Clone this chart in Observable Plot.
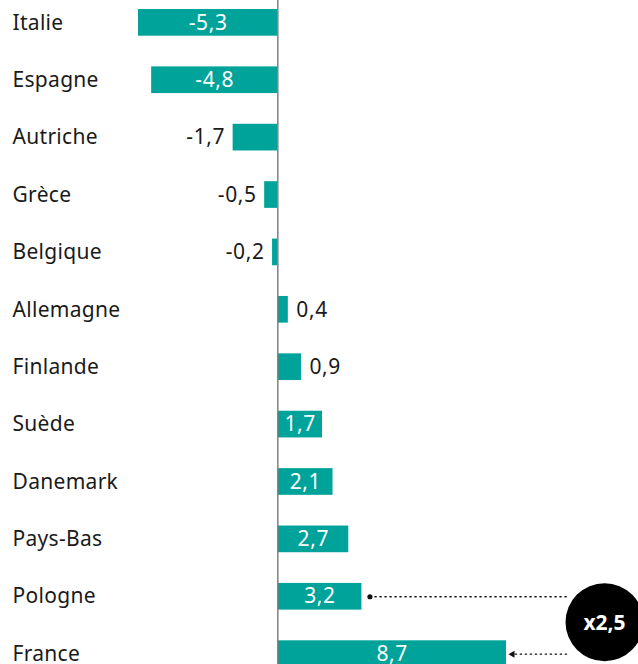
<!DOCTYPE html>
<html>
<head>
<meta charset="utf-8">
<script src="https://cdn.jsdelivr.net/npm/d3@7"></script>
<script src="https://cdn.jsdelivr.net/npm/@observablehq/plot@0.6"></script>
<style>
  html, body { margin: 0; padding: 0; overflow: hidden; background: #fff; }
  #chart { width: 638px; height: 664px; overflow: hidden; }
</style>
</head>
<body>
<div id="chart"></div>
<script>
const countries = ["Italie","Espagne","Autriche","Grèce","Belgique","Allemagne","Finlande","Suède","Danemark","Pays-Bas","Pologne","France"];
const values = [-5.3,-4.8,-1.7,-0.5,-0.2,0.4,0.9,1.7,2.1,2.7,3.2,8.7];
const ratioLabel = "x2,5";
const fromCountry = "Pologne";
const toCountry = "France";

const data = countries.map((c, i) => ({country: c, value: values[i]}));
const fmt = v => v.toFixed(1).replace(".", ",");
const inside = d => d.value >= 1.5 || d.value <= -2;
const teal = "#00a39a";
const font = "'Noto Sans', 'Open Sans', sans-serif";

const fromVal = values[countries.indexOf(fromCountry)];
const toVal = values[countries.indexOf(toCountry)];
const circleX = 12.43; // annotation bubble position, in value units

const chart = Plot.plot({
  width: 638,
  height: 667,
  marginLeft: 138,
  marginRight: 132,
  marginTop: 9,
  marginBottom: 0,
  style: {fontFamily: font, background: "#fff"},
  x: {domain: [-5.3, 8.7], axis: null},
  y: {domain: countries, axis: null, paddingInner: 0.535, paddingOuter: 0, round: false},
  marks: [
    Plot.barX(data, {x: "value", y: "country", fill: teal}),
    Plot.ruleX([0], {stroke: "#808080", strokeWidth: 1.5, insetTop: -9}),
    Plot.text(data, {y: "country", text: "country", frameAnchor: "left", dx: -126, textAnchor: "start", fill: "#1a1a1a", fontSize: 21, className: "lbl"}),
    Plot.text(data.filter(inside), {x: d => d.value / 2, y: "country", text: d => fmt(d.value), fill: "#fff", fontSize: 21, className: "val"}),
    Plot.text(data.filter(d => !inside(d) && d.value < 0), {x: "value", y: "country", text: d => fmt(d.value), fill: "#1a1a1a", fontSize: 21,
      textAnchor: "end", dx: -8, className: "val"}),
    Plot.text(data.filter(d => !inside(d) && d.value >= 0), {x: "value", y: "country", text: d => fmt(d.value), fill: "#1a1a1a", fontSize: 21,
      textAnchor: "start", dx: 8, className: "val"}),
    // annotation
    Plot.arrow([0], {x1: fromVal, x2: circleX, y1: () => fromCountry, y2: () => fromCountry, headLength: 0, insetStart: 8, insetEnd: 38,
      stroke: "#111", strokeWidth: 1.3, strokeDasharray: "1.3,3.7"}),
    Plot.dot([0], {x: fromVal, y: () => fromCountry, dx: 8, r: 2.6, fill: "#111", stroke: null}),
    Plot.arrow([0], {x1: circleX, x2: toVal, y1: () => toCountry, y2: () => toCountry, headLength: 0, insetStart: 38, insetEnd: 7,
      stroke: "#111", strokeWidth: 1.3, strokeDasharray: "1.3,3.7"}),
    Plot.dot([0], {x: toVal, y: () => toCountry, dx: 6, symbol: "triangle", rotate: -90, r: 2.6, fill: "#111", stroke: null}),
    Plot.dot([0], {x: circleX, y: () => toCountry, dy: -32, r: 39, fill: "#000", stroke: null}),
    Plot.text([ratioLabel], {x: circleX, y: () => toCountry, dy: -31, text: d => d, fill: "#fff", fontWeight: "bold", fontSize: 21})
  ]
});

chart.querySelectorAll("g.lbl text").forEach(t => t.setAttribute("letter-spacing", "0.3"));
chart.querySelectorAll("g.val text").forEach(t => t.setAttribute("letter-spacing", "0.6"));
document.getElementById("chart").appendChild(chart);
</script>
</body>
</html>
